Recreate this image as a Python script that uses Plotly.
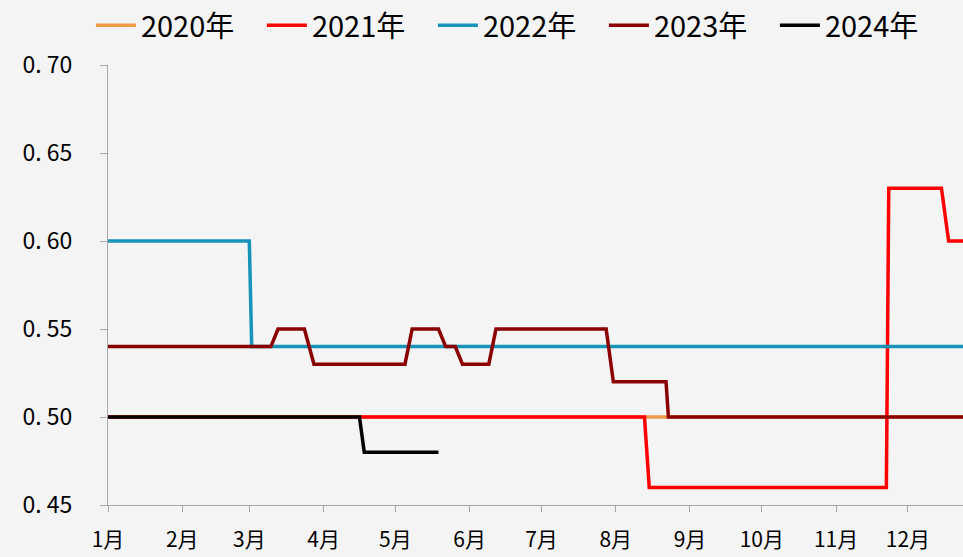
import pandas as pd
import plotly.graph_objects as go

# dates are month-day, all plotted on one dummy (non-leap) year
YEAR = "2021"

dates_2020 = ["01-01", "12-31"]
vals_2020 = [0.50, 0.50]

dates_2021 = ["01-01", "08-13", "08-15", "11-22", "11-23", "12-15", "12-18", "12-31"]
vals_2021 = [0.50, 0.50, 0.46, 0.46, 0.63, 0.63, 0.60, 0.60]

dates_2022 = ["01-01", "03-01", "03-02", "12-31"]
vals_2022 = [0.60, 0.60, 0.54, 0.54]

dates_2023 = ["01-01", "03-10", "03-13", "03-24", "03-28", "05-05", "05-08", "05-19",
              "05-22", "05-26", "05-29", "06-09", "06-12", "07-28", "07-31", "08-22",
              "08-23", "12-31"]
vals_2023 = [0.54, 0.54, 0.55, 0.55, 0.53, 0.53, 0.55, 0.55,
             0.54, 0.54, 0.53, 0.53, 0.55, 0.55, 0.52, 0.52,
             0.50, 0.50]

dates_2024 = ["01-01", "04-16", "04-18", "05-19"]
vals_2024 = [0.50, 0.50, 0.48, 0.48]

series = [
    ("2020年", dates_2020, vals_2020, "#EE9A49"),
    ("2021年", dates_2021, vals_2021, "#FF0000"),
    ("2022年", dates_2022, vals_2022, "#1793B8"),
    ("2023年", dates_2023, vals_2023, "#8B0000"),
    ("2024年", dates_2024, vals_2024, "#000000"),
]

month_ticks = [f"{YEAR}-{m:02d}-01" for m in range(1, 13)]
month_labels = [f"{m}月" for m in range(1, 13)]
y_ticks = [0.45, 0.50, 0.55, 0.60, 0.65, 0.70]
y_labels = ["0. 45", "0. 50", "0. 55", "0. 60", "0. 65", "0. 70"]

fig = go.Figure()
for name, d, v, color in series:
    fig.add_trace(go.Scatter(
        x=pd.to_datetime([f"{YEAR}-{s}" for s in d]),
        y=v,
        name=name,
        mode="lines",
        line=dict(color=color, width=3.5),
    ))

axis_color = "#A6A6A6"
fig.update_layout(
    width=963, height=557,
    paper_bgcolor="#F4F4F4",
    plot_bgcolor="#F4F4F4",
    margin=dict(l=108, r=0, t=65, b=52),
    font=dict(family="Noto Sans CJK SC", color="#000000"),
    showlegend=True,
    legend=dict(
        orientation="h",
        x=-0.02, y=1.09, xanchor="left", yanchor="middle",
        font=dict(size=29, family="Noto Sans CJK SC"),
        bgcolor="rgba(0,0,0,0)",
        entrywidth=116,
        itemwidth=40,
    ),
)
fig.update_xaxes(
    type="date",
    range=[f"{YEAR}-01-01", f"{YEAR}-12-24"],
    tickvals=month_ticks, ticktext=month_labels,
    tickfont=dict(size=21),
    ticklabelstandoff=10,
    showgrid=False, zeroline=False,
    showline=True, linecolor=axis_color, linewidth=1,
    ticks="outside", ticklen=6, tickcolor=axis_color,
)
fig.update_yaxes(
    range=[0.45, 0.70],
    tickvals=y_ticks, ticktext=y_labels,
    tickfont=dict(size=23),
    ticklabelstandoff=23,
    showgrid=False, zeroline=False,
    showline=True, linecolor=axis_color, linewidth=1,
    ticks="outside", ticklen=7, tickcolor=axis_color,
)

# page body has a default margin; drop it so the figure sits at the window corner
fig.write_html("out.html", config={"displayModeBar": False},
               post_script="document.body.style.margin='0';")
